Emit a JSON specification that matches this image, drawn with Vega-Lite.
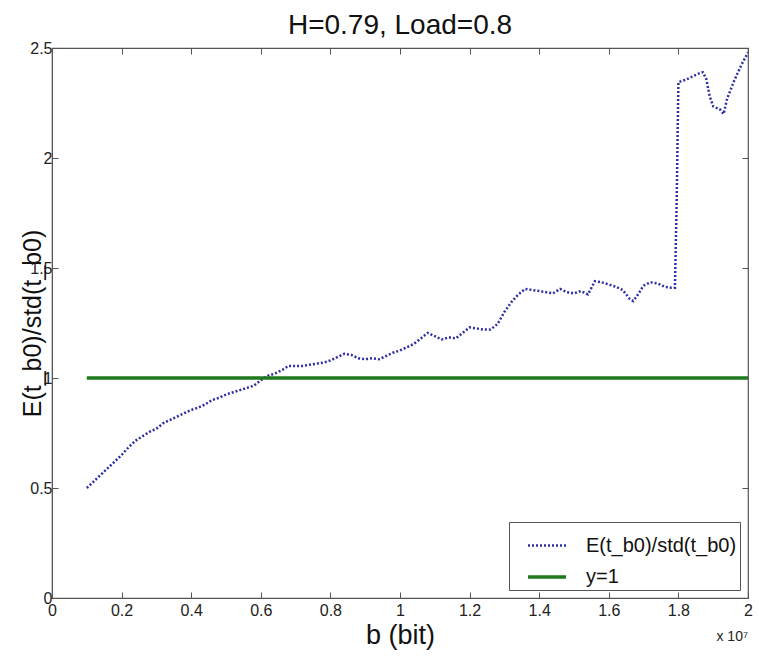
{
  "$schema": "https://vega.github.io/schema/vega-lite/v6.json",
  "width": 696,
  "height": 550,
  "autosize": "none",
  "padding": {"left": 52, "top": 48, "right": 11, "bottom": 58},
  "background": "white",
  "config": {
    "font": "Liberation Sans",
    "view": {"stroke": "#555", "strokeWidth": 1.2}
  },
  "title": {"text": "H=0.79, Load=0.8", "fontSize": 28, "fontWeight": "normal", "color": "#111", "offset": 0, "font": "Liberation Sans"},
  "datasets": {
    "curve": [
      {"b": 0.10, "v": 0.50, "s": "E"}, {"b": 0.12, "v": 0.53, "s": "E"}, {"b": 0.14, "v": 0.56, "s": "E"}, {"b": 0.16, "v": 0.59, "s": "E"},
      {"b": 0.18, "v": 0.62, "s": "E"}, {"b": 0.20, "v": 0.65, "s": "E"}, {"b": 0.22, "v": 0.685, "s": "E"}, {"b": 0.24, "v": 0.715, "s": "E"},
      {"b": 0.26, "v": 0.735, "s": "E"}, {"b": 0.28, "v": 0.755, "s": "E"}, {"b": 0.30, "v": 0.77, "s": "E"}, {"b": 0.32, "v": 0.795, "s": "E"},
      {"b": 0.34, "v": 0.81, "s": "E"}, {"b": 0.36, "v": 0.825, "s": "E"}, {"b": 0.38, "v": 0.84, "s": "E"}, {"b": 0.40, "v": 0.855, "s": "E"},
      {"b": 0.42, "v": 0.865, "s": "E"}, {"b": 0.44, "v": 0.88, "s": "E"}, {"b": 0.46, "v": 0.90, "s": "E"}, {"b": 0.48, "v": 0.91, "s": "E"},
      {"b": 0.50, "v": 0.925, "s": "E"}, {"b": 0.52, "v": 0.935, "s": "E"}, {"b": 0.54, "v": 0.945, "s": "E"}, {"b": 0.56, "v": 0.955, "s": "E"},
      {"b": 0.58, "v": 0.965, "s": "E"}, {"b": 0.60, "v": 0.99, "s": "E"}, {"b": 0.62, "v": 1.01, "s": "E"}, {"b": 0.64, "v": 1.02, "s": "E"},
      {"b": 0.66, "v": 1.035, "s": "E"}, {"b": 0.68, "v": 1.055, "s": "E"}, {"b": 0.70, "v": 1.055, "s": "E"}, {"b": 0.72, "v": 1.055, "s": "E"},
      {"b": 0.74, "v": 1.06, "s": "E"}, {"b": 0.76, "v": 1.065, "s": "E"}, {"b": 0.78, "v": 1.07, "s": "E"}, {"b": 0.80, "v": 1.08, "s": "E"},
      {"b": 0.82, "v": 1.095, "s": "E"}, {"b": 0.84, "v": 1.11, "s": "E"}, {"b": 0.86, "v": 1.105, "s": "E"}, {"b": 0.88, "v": 1.09, "s": "E"},
      {"b": 0.90, "v": 1.085, "s": "E"}, {"b": 0.92, "v": 1.09, "s": "E"}, {"b": 0.94, "v": 1.085, "s": "E"}, {"b": 0.96, "v": 1.10, "s": "E"},
      {"b": 0.98, "v": 1.115, "s": "E"}, {"b": 1.00, "v": 1.125, "s": "E"}, {"b": 1.02, "v": 1.14, "s": "E"}, {"b": 1.04, "v": 1.155, "s": "E"},
      {"b": 1.06, "v": 1.18, "s": "E"}, {"b": 1.08, "v": 1.205, "s": "E"}, {"b": 1.10, "v": 1.19, "s": "E"}, {"b": 1.12, "v": 1.175, "s": "E"},
      {"b": 1.14, "v": 1.185, "s": "E"}, {"b": 1.16, "v": 1.18, "s": "E"}, {"b": 1.18, "v": 1.205, "s": "E"}, {"b": 1.20, "v": 1.23, "s": "E"},
      {"b": 1.22, "v": 1.225, "s": "E"}, {"b": 1.24, "v": 1.22, "s": "E"}, {"b": 1.26, "v": 1.22, "s": "E"}, {"b": 1.28, "v": 1.245, "s": "E"},
      {"b": 1.30, "v": 1.30, "s": "E"}, {"b": 1.32, "v": 1.345, "s": "E"}, {"b": 1.34, "v": 1.38, "s": "E"}, {"b": 1.36, "v": 1.405, "s": "E"},
      {"b": 1.38, "v": 1.40, "s": "E"}, {"b": 1.40, "v": 1.395, "s": "E"}, {"b": 1.42, "v": 1.39, "s": "E"}, {"b": 1.44, "v": 1.385, "s": "E"},
      {"b": 1.46, "v": 1.405, "s": "E"}, {"b": 1.48, "v": 1.39, "s": "E"}, {"b": 1.50, "v": 1.385, "s": "E"}, {"b": 1.52, "v": 1.395, "s": "E"},
      {"b": 1.54, "v": 1.38, "s": "E"}, {"b": 1.56, "v": 1.44, "s": "E"}, {"b": 1.58, "v": 1.435, "s": "E"}, {"b": 1.60, "v": 1.425, "s": "E"},
      {"b": 1.62, "v": 1.415, "s": "E"}, {"b": 1.64, "v": 1.40, "s": "E"}, {"b": 1.66, "v": 1.36, "s": "E"}, {"b": 1.67, "v": 1.35, "s": "E"},
      {"b": 1.68, "v": 1.37, "s": "E"}, {"b": 1.70, "v": 1.42, "s": "E"}, {"b": 1.72, "v": 1.435, "s": "E"}, {"b": 1.74, "v": 1.43, "s": "E"},
      {"b": 1.76, "v": 1.415, "s": "E"}, {"b": 1.78, "v": 1.41, "s": "E"}, {"b": 1.79, "v": 1.41, "s": "E"}, {"b": 1.795, "v": 1.8, "s": "E"},
      {"b": 1.80, "v": 2.345, "s": "E"}, {"b": 1.82, "v": 2.355, "s": "E"}, {"b": 1.84, "v": 2.37, "s": "E"}, {"b": 1.86, "v": 2.385, "s": "E"},
      {"b": 1.87, "v": 2.39, "s": "E"}, {"b": 1.88, "v": 2.36, "s": "E"}, {"b": 1.89, "v": 2.28, "s": "E"}, {"b": 1.90, "v": 2.235, "s": "E"},
      {"b": 1.92, "v": 2.22, "s": "E"}, {"b": 1.93, "v": 2.20, "s": "E"}, {"b": 1.94, "v": 2.27, "s": "E"}, {"b": 1.96, "v": 2.35, "s": "E"},
      {"b": 1.98, "v": 2.42, "s": "E"}, {"b": 2.00, "v": 2.48, "s": "E"},
      {"b": 0.10, "v": 1.0, "s": "y=1"}, {"b": 2.00, "v": 1.0, "s": "y=1"}
    ],
    "note": [{"b": 2.0, "v": 0, "t": "x 10⁷"}]
  },
  "layer": [
    {
      "data": {"name": "curve"},
      "mark": {"type": "line", "clip": true},
      "encoding": {
        "x": {
          "field": "b", "type": "quantitative",
          "scale": {"domain": [0, 2], "nice": false, "zero": false},
          "axis": {
            "values": [0, 0.2, 0.4, 0.6, 0.8, 1, 1.2, 1.4, 1.6, 1.8, 2],
            "title": "b (bit)", "titleFontSize": 27, "titleFontWeight": "normal", "titleColor": "#111", "titlePadding": 4,
            "labelFontSize": 16, "labelColor": "#222", "labelPadding": 10, "labelFlush": false,
            "tickSize": -6, "tickColor": "#555", "domainColor": "#555", "grid": false,
            "labelExpr": "format(datum.value, '.1~f')"
          }
        },
        "y": {
          "field": "v", "type": "quantitative",
          "scale": {"domain": [0, 2.5], "nice": false},
          "axis": {
            "values": [0, 0.5, 1, 1.5, 2, 2.5],
            "title": "E(t_b0)/std(t_b0)", "titleFontSize": 25, "titleFontWeight": "normal", "titleColor": "#111", "titlePadding": -16,
            "labelFontSize": 16, "labelColor": "#222", "labelPadding": 6, "labelFlush": false,
            "tickSize": -6, "tickColor": "#555", "domainColor": "#555", "grid": false,
            "labelExpr": "format(datum.value, '.1~f')"
          }
        },
        "color": {
          "field": "s", "type": "nominal",
          "scale": {"domain": ["E", "y=1"], "range": ["#2e2ea6", "#1f7a1f"]},
          "legend": {
            "title": null, "orient": "bottom-right", "offset": 8,
            "labelExpr": "datum.value == 'E' ? 'E(t_b0)/std(t_b0)' : 'y=1'",
            "labelFontSize": 20, "labelColor": "#111", "labelLimit": 300, "labelOffset": 18,
            "symbolType": "stroke", "symbolSize": 1444, "symbolStrokeWidth": 3, "symbolOffset": 14,
            "strokeColor": "#555", "fillColor": "white", "padding": 3, "rowPadding": -2
          }
        },
        "strokeDash": {
          "field": "s", "type": "nominal",
          "scale": {"domain": ["E", "y=1"], "range": [[2, 2], [1, 0]]},
          "legend": null
        },
        "strokeWidth": {
          "field": "s", "type": "nominal",
          "scale": {"domain": ["E", "y=1"], "range": [2.5, 3.5]},
          "legend": null
        }
      }
    },
    {
      "data": {"name": "note"},
      "mark": {"type": "text", "align": "right", "baseline": "top", "dy": 32, "fontSize": 14, "color": "#222", "clip": false},
      "encoding": {
        "x": {
          "field": "b", "type": "quantitative",
          "axis": {"orient": "top", "values": [0, 0.2, 0.4, 0.6, 0.8, 1, 1.2, 1.4, 1.6, 1.8, 2], "labels": false, "title": null, "tickSize": -6, "tickColor": "#555", "domain": false, "grid": false}
        },
        "y": {
          "field": "v", "type": "quantitative",
          "axis": {"orient": "right", "values": [0, 0.5, 1, 1.5, 2, 2.5], "labels": false, "title": null, "tickSize": -6, "tickColor": "#555", "domain": false, "grid": false}
        },
        "text": {"field": "t"}
      }
    }
  ],
  "resolve": {"axis": {"x": "independent", "y": "independent"}}
}
